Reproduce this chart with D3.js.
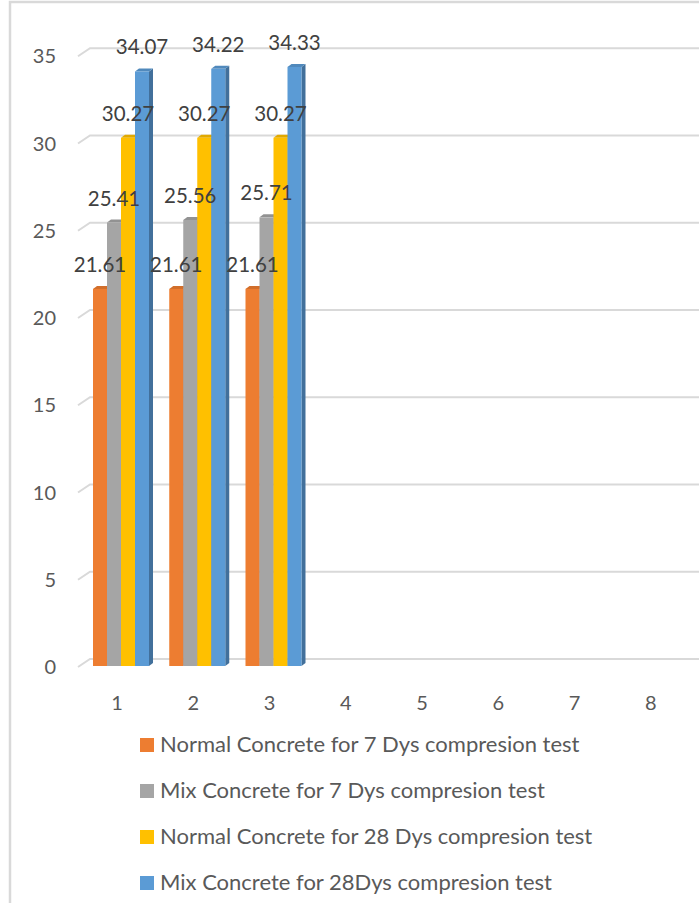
<!DOCTYPE html>
<html>
<head>
<meta charset="utf-8">
<script src="https://cdn.jsdelivr.net/npm/d3@7"></script>
<style>
  html, body { margin: 0; padding: 0; background: #fff; }
  svg { display: block; }
  text { font-family: Lato, "Open Sans", sans-serif; }
</style>
</head>
<body>
<svg id="chart" width="699" height="903"></svg>
<script>
// Compression test results (MPa) for each sample
const categories = [1, 2, 3, 4, 5, 6, 7, 8];
const seriesNames = [
  "Normal Concrete for 7 Dys compresion test",
  "Mix Concrete for 7 Dys compresion test",
  "Normal Concrete for 28 Dys compresion test",
  "Mix Concrete for 28Dys compresion test"
];
const normal7 = [21.61, 21.61, 21.61];
const mix7 = [25.41, 25.56, 25.71];
const normal28 = [30.27, 30.27, 30.27];
const mix28 = [34.07, 34.22, 34.33];
const yTicks = [0, 5, 10, 15, 20, 25, 30, 35];
const colors = ["#ED7D31", "#A5A5A5", "#FFC000", "#5B9BD5"];

const seriesValues = [normal7, mix7, normal28, mix28];

const svg = d3.select("#chart");
const W = 699, H = 903;

// chart frame
svg.append("rect").attr("x", 10).attr("y", 2).attr("width", W + 10).attr("height", H + 10)
  .attr("fill", "#fff").attr("stroke", "#d9d9d9").attr("stroke-width", 2.5);

// scales
const x = d3.scaleBand().domain(categories).range([78, 688]);
const xInner = d3.scaleBand().domain(d3.range(seriesNames.length)).range([15, 71]);
const y = d3.scaleLinear().domain([0, 35]).range([666, 666 - 35 * 17.45]);

// perspective offsets for the floor/back wall and for the bars
const wallDx = 12, wallDy = -8;
const barDx = 4, barDy = -3;

// gridlines on the back wall with the diagonal going to the front
svg.append("g").selectAll("path").data(yTicks).join("path")
  .attr("d", v => {
    const yf = y(v) + 1, yb = yf + wallDy;
    return `M${x.range()[0]},${yf}L${x.range()[0] + wallDx},${yb}L${W},${yb}`;
  })
  .attr("fill", "none").attr("stroke", "#d9d9d9").attr("stroke-width", 2);

// y axis labels
svg.append("g").selectAll("text").data(yTicks).join("text")
  .attr("x", 56).attr("y", v => y(v) + 3)
  .attr("text-anchor", "end").attr("dominant-baseline", "middle")
  .attr("font-size", 20).attr("fill", "#595959")
  .text(v => v);

// x axis labels
const xAxis = d3.axisBottom(x).tickSize(0).tickPadding(0);
const gx = svg.append("g").attr("transform", "translate(1,700)").call(xAxis);
gx.select(".domain").remove();
gx.selectAll("text").attr("font-size", 20).attr("fill", "#595959")
  .attr("font-family", "Lato, 'Open Sans', sans-serif").attr("dy", "0.5em");

// bars as 3D prisms
const bars = [];
seriesValues.forEach((vals, s) => {
  vals.forEach((v, i) => bars.push({ s, cat: categories[i], v }));
});

const gBars = svg.append("g");
categories.slice(0, 3).forEach(cat => {
  seriesValues.forEach((vals, s) => {
    const v = vals[categories.indexOf(cat)];
    const x0 = x(cat) + xInner(s);
    const w = xInner.bandwidth();
    const y0 = y(0), y1 = y(v);
    const c = d3.color(colors[s]);
    const g = gBars.append("g");
    // right side
    g.append("path")
      .attr("d", `M${x0 + w},${y1}L${x0 + w + barDx},${y1 + barDy}L${x0 + w + barDx},${y0 + barDy}L${x0 + w},${y0}Z`)
      .attr("fill", c.darker(0.9));
    // top
    g.append("path")
      .attr("d", `M${x0},${y1}L${x0 + barDx},${y1 + barDy}L${x0 + w + barDx},${y1 + barDy}L${x0 + w},${y1}Z`)
      .attr("fill", c.darker(0.35));
    // front
    g.append("rect").attr("x", x0).attr("y", y1).attr("width", w).attr("height", y0 - y1)
      .attr("fill", c);
  });
});

// data labels
svg.append("g").selectAll("text").data(bars).join("text")
  .attr("x", d => x(d.cat) + xInner(d.s) + xInner.bandwidth() / 2)
  .attr("y", d => y(d.v) - 17)
  .attr("text-anchor", "middle")
  .attr("font-size", 20.5).attr("fill", "#404040")
  .text(d => d.v.toFixed(2));

// legend
const legend = svg.append("g").selectAll("g").data(seriesNames).join("g")
  .attr("transform", (d, i) => `translate(140,${745 + i * 46})`);
legend.append("rect").attr("x", 0).attr("y", -7).attr("width", 14).attr("height", 14)
  .attr("fill", (d, i) => colors[i]);
legend.append("text").attr("x", 20).attr("y", 1).attr("dominant-baseline", "middle")
  .attr("font-size", 22).attr("fill", "#595959")
  .text(d => d);
</script>
</body>
</html>
